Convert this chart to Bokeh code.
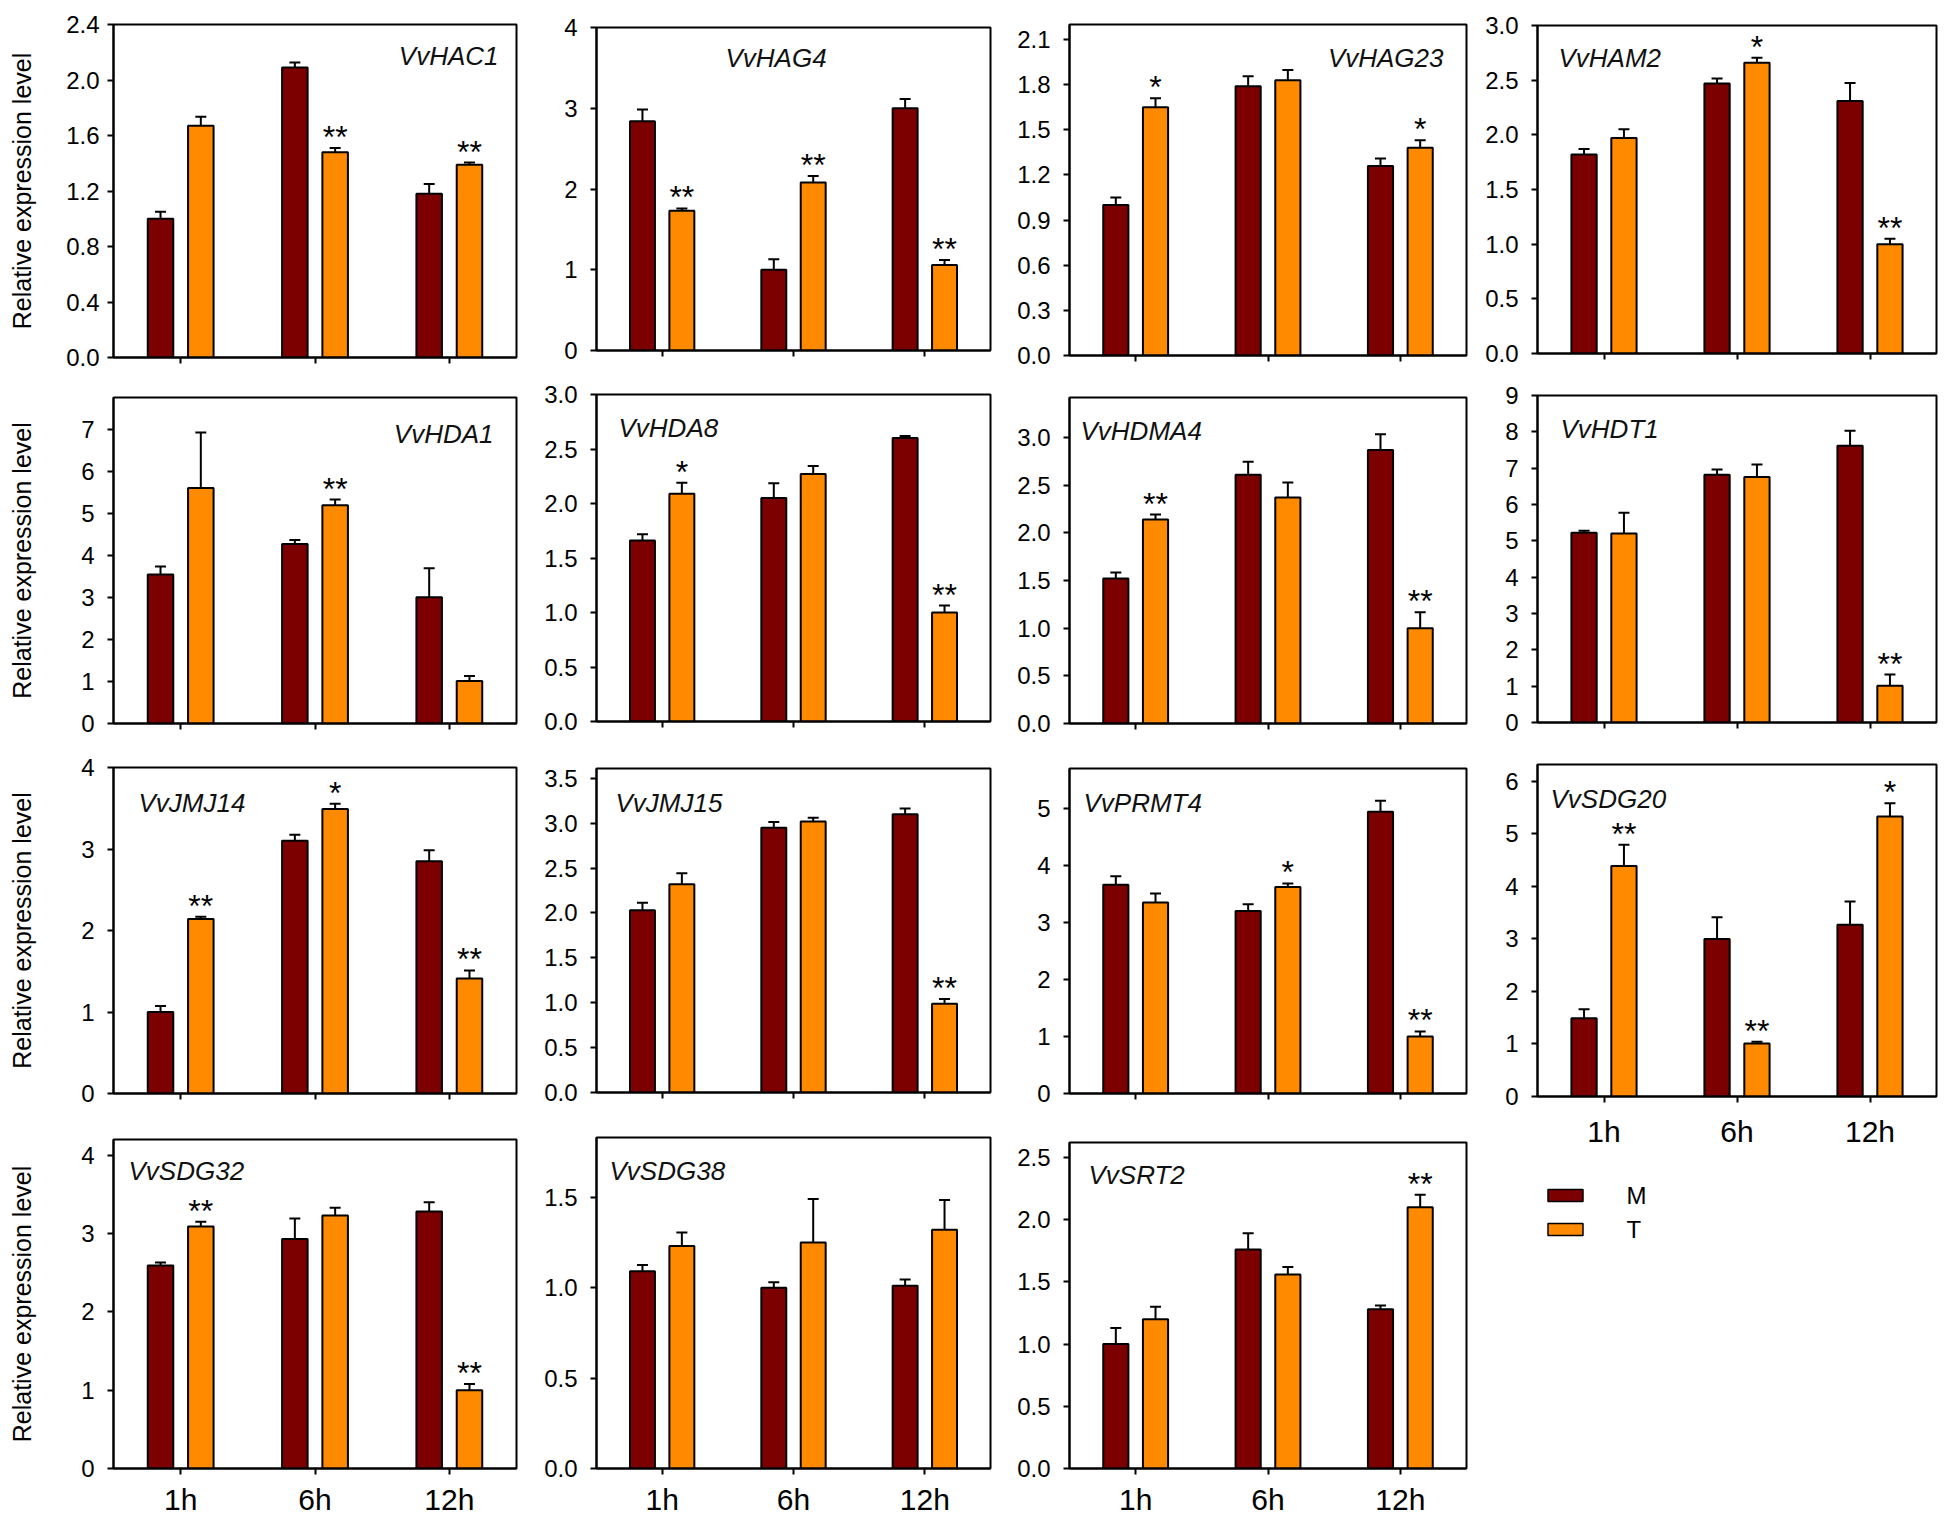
from bokeh.plotting import figure
from bokeh.models import (Range1d, FixedTicker, PrintfTickFormatter,
                          ColumnDataSource, Label)
from bokeh.transform import dodge
from bokeh.layouts import row, column
from bokeh.embed import file_html
from bokeh.resources import INLINE
from bokeh.core.properties import value

FONT = "Liberation Sans"
M_COLOR = "#7c0000"
T_COLOR = "#ff8a00"
TIMES = ["1h", "6h", "12h"]
SERIES = ["M", "T"]
SERIES_COLORS = [M_COLOR, T_COLOR]
Y_LABEL = "Relative expression level"

# ---------------- data (mean, error, significance, y ticks) ----------------
VvHAC1_M = [1.00, 2.09, 1.18]
VvHAC1_M_ERR = [0.05, 0.036, 0.07]
VvHAC1_T = [1.67, 1.48, 1.39]
VvHAC1_T_ERR = [0.065, 0.03, 0.015]
VvHAC1_SIG = ["", "**", "**"]
VvHAC1_YTICKS = [0, 0.4, 0.8, 1.2, 1.6, 2.0, 2.4]

VvHAG4_M = [2.84, 1.00, 3.00]
VvHAG4_M_ERR = [0.145, 0.13, 0.115]
VvHAG4_T = [1.73, 2.08, 1.06]
VvHAG4_T_ERR = [0.03, 0.08, 0.06]
VvHAG4_SIG = ["**", "**", "**"]
VvHAG4_YTICKS = [0, 1, 2, 3, 4]

VvHAG23_M = [1.00, 1.79, 1.26]
VvHAG23_M_ERR = [0.05, 0.066, 0.05]
VvHAG23_T = [1.65, 1.83, 1.38]
VvHAG23_T_ERR = [0.06, 0.067, 0.05]
VvHAG23_SIG = ["*", "", "*"]
VvHAG23_YTICKS = [0, 0.3, 0.6, 0.9, 1.2, 1.5, 1.8, 2.1]

VvHAM2_M = [1.82, 2.47, 2.31]
VvHAM2_M_ERR = [0.05, 0.046, 0.165]
VvHAM2_T = [1.97, 2.66, 1.00]
VvHAM2_T_ERR = [0.08, 0.046, 0.05]
VvHAM2_SIG = ["", "*", "**"]
VvHAM2_YTICKS = [0, 0.5, 1.0, 1.5, 2.0, 2.5, 3.0]

VvHDA1_M = [3.54, 4.27, 3.00]
VvHDA1_M_ERR = [0.19, 0.095, 0.69]
VvHDA1_T = [5.60, 5.19, 1.01]
VvHDA1_T_ERR = [1.32, 0.135, 0.12]
VvHDA1_SIG = ["", "**", ""]
VvHDA1_YTICKS = [0, 1, 2, 3, 4, 5, 6, 7]

VvHDA8_M = [1.66, 2.05, 2.60]
VvHDA8_M_ERR = [0.058, 0.135, 0.02]
VvHDA8_T = [2.09, 2.27, 1.00]
VvHDA8_T_ERR = [0.10, 0.073, 0.064]
VvHDA8_SIG = ["*", "", "**"]
VvHDA8_YTICKS = [0, 0.5, 1.0, 1.5, 2.0, 2.5, 3.0]

VvHDMA4_M = [1.52, 2.61, 2.87]
VvHDMA4_M_ERR = [0.063, 0.136, 0.164]
VvHDMA4_T = [2.14, 2.37, 1.00]
VvHDMA4_T_ERR = [0.052, 0.157, 0.167]
VvHDMA4_SIG = ["**", "", "**"]
VvHDMA4_YTICKS = [0, 0.5, 1.0, 1.5, 2.0, 2.5, 3.0]

VvHDT1_M = [5.22, 6.82, 7.62]
VvHDT1_M_ERR = [0.06, 0.14, 0.41]
VvHDT1_T = [5.20, 6.76, 1.01]
VvHDT1_T_ERR = [0.57, 0.34, 0.31]
VvHDT1_SIG = ["", "", "**"]
VvHDT1_YTICKS = [0, 1, 2, 3, 4, 5, 6, 7, 8, 9]

VvJMJ14_M = [1.00, 3.10, 2.85]
VvJMJ14_M_ERR = [0.074, 0.074, 0.135]
VvJMJ14_T = [2.14, 3.49, 1.41]
VvJMJ14_T_ERR = [0.03, 0.065, 0.10]
VvJMJ14_SIG = ["**", "*", "**"]
VvJMJ14_YTICKS = [0, 1, 2, 3, 4]

VvJMJ15_M = [2.03, 2.95, 3.10]
VvJMJ15_M_ERR = [0.085, 0.063, 0.063]
VvJMJ15_T = [2.32, 3.02, 0.99]
VvJMJ15_T_ERR = [0.122, 0.04, 0.052]
VvJMJ15_SIG = ["", "", "**"]
VvJMJ15_YTICKS = [0, 0.5, 1.0, 1.5, 2.0, 2.5, 3.0, 3.5]

VvPRMT4_M = [3.66, 3.20, 4.94]
VvPRMT4_M_ERR = [0.152, 0.117, 0.194]
VvPRMT4_T = [3.35, 3.62, 1.00]
VvPRMT4_T_ERR = [0.158, 0.064, 0.088]
VvPRMT4_SIG = ["", "*", "**"]
VvPRMT4_YTICKS = [0, 1, 2, 3, 4, 5]

VvSDG20_M = [1.49, 3.00, 3.27]
VvSDG20_M_ERR = [0.17, 0.41, 0.44]
VvSDG20_T = [4.39, 1.01, 5.33]
VvSDG20_T_ERR = [0.40, 0.03, 0.25]
VvSDG20_SIG = ["**", "**", "*"]
VvSDG20_YTICKS = [0, 1, 2, 3, 4, 5, 6]

VvSDG32_M = [2.59, 2.93, 3.28]
VvSDG32_M_ERR = [0.04, 0.26, 0.12]
VvSDG32_T = [3.09, 3.23, 1.00]
VvSDG32_T_ERR = [0.06, 0.10, 0.08]
VvSDG32_SIG = ["**", "", "**"]
VvSDG32_YTICKS = [0, 1, 2, 3, 4]

VvSDG38_M = [1.09, 1.00, 1.01]
VvSDG38_M_ERR = [0.035, 0.03, 0.035]
VvSDG38_T = [1.23, 1.25, 1.32]
VvSDG38_T_ERR = [0.075, 0.24, 0.165]
VvSDG38_SIG = ["", "", ""]
VvSDG38_YTICKS = [0, 0.5, 1.0, 1.5]

VvSRT2_M = [1.00, 1.76, 1.28]
VvSRT2_M_ERR = [0.13, 0.13, 0.03]
VvSRT2_T = [1.20, 1.56, 2.10]
VvSRT2_T_ERR = [0.10, 0.06, 0.10]
VvSRT2_SIG = ["", "", "**"]
VvSRT2_YTICKS = [0, 0.5, 1.0, 1.5, 2.0, 2.5]

PANELS = [
    ("VvHAC1", VvHAC1_M, VvHAC1_M_ERR, VvHAC1_T, VvHAC1_T_ERR, VvHAC1_SIG, VvHAC1_YTICKS),
    ("VvHAG4", VvHAG4_M, VvHAG4_M_ERR, VvHAG4_T, VvHAG4_T_ERR, VvHAG4_SIG, VvHAG4_YTICKS),
    ("VvHAG23", VvHAG23_M, VvHAG23_M_ERR, VvHAG23_T, VvHAG23_T_ERR, VvHAG23_SIG, VvHAG23_YTICKS),
    ("VvHAM2", VvHAM2_M, VvHAM2_M_ERR, VvHAM2_T, VvHAM2_T_ERR, VvHAM2_SIG, VvHAM2_YTICKS),
    ("VvHDA1", VvHDA1_M, VvHDA1_M_ERR, VvHDA1_T, VvHDA1_T_ERR, VvHDA1_SIG, VvHDA1_YTICKS),
    ("VvHDA8", VvHDA8_M, VvHDA8_M_ERR, VvHDA8_T, VvHDA8_T_ERR, VvHDA8_SIG, VvHDA8_YTICKS),
    ("VvHDMA4", VvHDMA4_M, VvHDMA4_M_ERR, VvHDMA4_T, VvHDMA4_T_ERR, VvHDMA4_SIG, VvHDMA4_YTICKS),
    ("VvHDT1", VvHDT1_M, VvHDT1_M_ERR, VvHDT1_T, VvHDT1_T_ERR, VvHDT1_SIG, VvHDT1_YTICKS),
    ("VvJMJ14", VvJMJ14_M, VvJMJ14_M_ERR, VvJMJ14_T, VvJMJ14_T_ERR, VvJMJ14_SIG, VvJMJ14_YTICKS),
    ("VvJMJ15", VvJMJ15_M, VvJMJ15_M_ERR, VvJMJ15_T, VvJMJ15_T_ERR, VvJMJ15_SIG, VvJMJ15_YTICKS),
    ("VvPRMT4", VvPRMT4_M, VvPRMT4_M_ERR, VvPRMT4_T, VvPRMT4_T_ERR, VvPRMT4_SIG, VvPRMT4_YTICKS),
    ("VvSDG20", VvSDG20_M, VvSDG20_M_ERR, VvSDG20_T, VvSDG20_T_ERR, VvSDG20_SIG, VvSDG20_YTICKS),
    ("VvSDG32", VvSDG32_M, VvSDG32_M_ERR, VvSDG32_T, VvSDG32_T_ERR, VvSDG32_SIG, VvSDG32_YTICKS),
    ("VvSDG38", VvSDG38_M, VvSDG38_M_ERR, VvSDG38_T, VvSDG38_T_ERR, VvSDG38_SIG, VvSDG38_YTICKS),
    ("VvSRT2", VvSRT2_M, VvSRT2_M_ERR, VvSRT2_T, VvSRT2_T_ERR, VvSRT2_SIG, VvSRT2_YTICKS),
]

# ---------------- layout (page pixel geometry and styling only) ----------------
# columns: (cell x0, cell x1, frame left, frame right)
COLS = [(0, 530, 113, 516), (530, 1000, 596, 990), (1000, 1480, 1069, 1466), (1480, 1944, 1537, 1936)]
LAYOUT = {
    "VvHAC1":  dict(col=0, cy=(0, 375), fy=(24, 357), ymax=2.4, fmt="%.1f", title=("r", 498, 55), ylab=27, tstand=8),
    "VvHAG4":  dict(col=1, cy=(0, 375), fy=(27, 350), ymax=4.0, fmt="%d", title=("l", 725, 57)),
    "VvHAG23": dict(col=2, cy=(0, 375), fy=(24, 355), ymax=2.2, fmt="%.1f", title=("r", 1443, 57)),
    "VvHAM2":  dict(col=3, cy=(0, 375), fy=(25, 353), ymax=3.0, fmt="%.1f", title=("l", 1558, 57)),
    "VvHDA1":  dict(col=0, cy=(375, 745), fy=(397, 723), ymax=7.75, fmt="%d", title=("r", 493, 433), ylab=42),
    "VvHDA8":  dict(col=1, cy=(375, 745), fy=(394, 721), ymax=3.0, fmt="%.1f", title=("l", 618, 427)),
    "VvHDMA4": dict(col=2, cy=(375, 745), fy=(397, 723), ymax=3.42, fmt="%.1f", title=("l", 1080, 430)),
    "VvHDT1":  dict(col=3, cy=(375, 745), fy=(395, 722), ymax=9.0, fmt="%d", title=("l", 1560, 428)),
    "VvJMJ14": dict(col=0, cy=(745, 1115), fy=(767, 1093), ymax=4.0, fmt="%d", title=("l", 138, 802), ylab=42),
    "VvJMJ15": dict(col=1, cy=(745, 1115), fy=(768, 1092), ymax=3.61, fmt="%.1f", title=("l", 615, 802)),
    "VvPRMT4": dict(col=2, cy=(745, 1115), fy=(768, 1093), ymax=5.7, fmt="%d", title=("l", 1083, 802)),
    "VvSDG20": dict(col=3, cy=(745, 1160), fy=(764, 1096), ymax=6.32, fmt="%d", title=("l", 1550, 798), xlab=12),
    "VvSDG32": dict(col=0, cy=(1115, 1518), fy=(1139, 1468), ymax=4.2, fmt="%d", title=("l", 128, 1170), ylab=42, xlab=8),
    "VvSDG38": dict(col=1, cy=(1115, 1518), fy=(1137, 1468), ymax=1.83, fmt="%.1f", title=("l", 609, 1170), xlab=8),
    "VvSRT2":  dict(col=2, cy=(1115, 1518), fy=(1142, 1468), ymax=2.62, fmt="%.1f", title=("l", 1088, 1174), xlab=8),
}
LEGEND_CELL_Y = (1160, 1518)
LEGEND_SWATCH_X = 1565
LEGEND_SWATCH_Y = [1195, 1229]
LEGEND_TEXT_X = 1626
BAR_OFFSET = 0.15
BAR_WIDTH = 0.19
X_POS = [i + 0.5 for i in range(len(TIMES))]


def style_axis_lines(ax):
    ax.axis_line_width = 2
    ax.axis_line_color = "black"
    ax.major_tick_line_width = 2
    ax.major_tick_line_color = "black"
    ax.minor_tick_line_width = 2
    ax.minor_tick_line_color = "black"
    ax.major_tick_out = 6
    ax.major_tick_in = 0


def make_panel(gene, m, merr, t, terr, sig, yticks):
    L = LAYOUT[gene]
    cx0, cx1, fl, fr = COLS[L["col"]]
    cy0, cy1 = L["cy"]
    ft, fb = L["fy"]
    n = len(TIMES)
    p = figure(width=cx1 - cx0, height=cy1 - cy0,
               x_range=Range1d(0, n), y_range=Range1d(0, L["ymax"]),
               output_backend="svg", toolbar_location=None, tools="",
               min_border_left=fl - cx0, min_border_right=cx1 - fr,
               min_border_top=ft - cy0, min_border_bottom=cy1 - fb,
               background_fill_color="white", border_fill_color="white")
    p.outline_line_color = "black"
    p.outline_line_width = 2
    p.outline_line_alpha = 1.0
    p.grid.visible = False

    src = ColumnDataSource(dict(
        x=X_POS, m=m, t=t,
        m_up=[a + b for a, b in zip(m, merr)],
        t_up=[a + b for a, b in zip(t, terr)]))

    for field, up, off, color in (("m", "m_up", -BAR_OFFSET, M_COLOR),
                                  ("t", "t_up", BAR_OFFSET, T_COLOR)):
        xs = dodge("x", off)
        p.vbar(x=xs, top=field, width=BAR_WIDTH, source=src,
               fill_color=color, line_color="black", line_width=2)
        p.segment(x0=xs, y0=field, x1=xs, y1=up, source=src,
                  line_color="black", line_width=2)
        p.scatter(x=xs, y=up, marker="dash", size=11, source=src,
                  line_color="black", line_width=2)

    keep = [i for i, s in enumerate(sig) if s]
    if keep:
        star_src = ColumnDataSource(dict(
            x=[X_POS[i] for i in keep],
            y=[t[i] + terr[i] for i in keep],
            s=[sig[i] for i in keep]))
        p.text(x=dodge("x", BAR_OFFSET), y="y", text="s", source=star_src,
               text_font=value(FONT), text_font_size="32px", text_align="center",
               text_baseline="alphabetic", y_offset=-11, text_color="black")

    ya = p.yaxis[0]
    ya.ticker = FixedTicker(ticks=yticks)
    ya.formatter = PrintfTickFormatter(format=L["fmt"])
    ya.major_label_text_font = FONT
    ya.major_label_text_font_size = "24px"
    ya.major_label_text_color = "black"
    style_axis_lines(ya)
    ya.minor_tick_out = 0
    ya.minor_tick_in = 0
    ya.major_label_standoff = L.get("tstand", 13)
    if "ylab" in L:
        ya.axis_label = Y_LABEL
        ya.axis_label_text_font = FONT
        ya.axis_label_text_font_size = "25px"
        ya.axis_label_text_font_style = "normal"
        ya.axis_label_text_color = "black"
        ya.axis_label_standoff = L["ylab"]

    xa = p.xaxis[0]
    style_axis_lines(xa)
    if "xlab" in L:
        xa.ticker = FixedTicker(ticks=X_POS)
        xa.major_label_overrides = {x: lab for x, lab in zip(X_POS, TIMES)}
        xa.major_label_text_font = FONT
        xa.major_label_text_font_size = "30px"
        xa.major_label_text_color = "black"
        xa.major_label_standoff = L["xlab"]
        xa.minor_tick_out = 0
        xa.minor_tick_in = 0
    else:
        xa.ticker = FixedTicker(ticks=[], minor_ticks=X_POS)
        xa.minor_tick_out = 6
        xa.minor_tick_in = 0
        xa.major_label_standoff = 0

    fw = fr - fl
    fh = fb - ft
    mode, tx, ty = L["title"]
    p.add_layout(Label(x=(tx - fl) / fw * n, y=L["ymax"] * (fb - ty) / fh,
                       text=gene, text_font=FONT, text_font_style="italic",
                       text_font_size="26px", text_color="#111111",
                       text_align="left" if mode == "l" else "right",
                       text_baseline="middle"))
    return p


figs = {g[0]: make_panel(*g) for g in PANELS}

# legend panel (frame spans page pixels, so the data space equals page pixels)
lcx0, lcx1, lfl, lfr = COLS[3]
ly0, ly1 = LEGEND_CELL_Y
lg = figure(width=lcx1 - lcx0, height=ly1 - ly0,
            x_range=Range1d(lfl, lfr), y_range=Range1d(ly1, ly0),
            output_backend="svg", toolbar_location=None, tools="",
            x_axis_location=None, y_axis_location=None,
            min_border_left=lfl - lcx0, min_border_right=lcx1 - lfr,
            min_border_top=0, min_border_bottom=0,
            background_fill_color="white", border_fill_color="white")
lg.outline_line_color = None
lg.grid.visible = False
leg_src = ColumnDataSource(dict(x=[LEGEND_SWATCH_X] * len(SERIES), y=LEGEND_SWATCH_Y,
                                tx=[LEGEND_TEXT_X] * len(SERIES),
                                label=SERIES, color=SERIES_COLORS))
lg.rect(x="x", y="y", width=35, height=12, source=leg_src,
        fill_color="color", line_color="black", line_width=1.5)
lg.text(x="tx", y="y", text="label", source=leg_src, text_font=value(FONT),
        text_font_size="24px", text_baseline="middle", text_align="left", text_color="black")

layout = row(
    column(figs["VvHAC1"], figs["VvHDA1"], figs["VvJMJ14"], figs["VvSDG32"]),
    column(figs["VvHAG4"], figs["VvHDA8"], figs["VvJMJ15"], figs["VvSDG38"]),
    column(figs["VvHAG23"], figs["VvHDMA4"], figs["VvPRMT4"], figs["VvSRT2"]),
    column(figs["VvHAM2"], figs["VvHDT1"], figs["VvSDG20"], lg),
)

with open("out.html", "w") as f:
    f.write(file_html(layout, INLINE))
